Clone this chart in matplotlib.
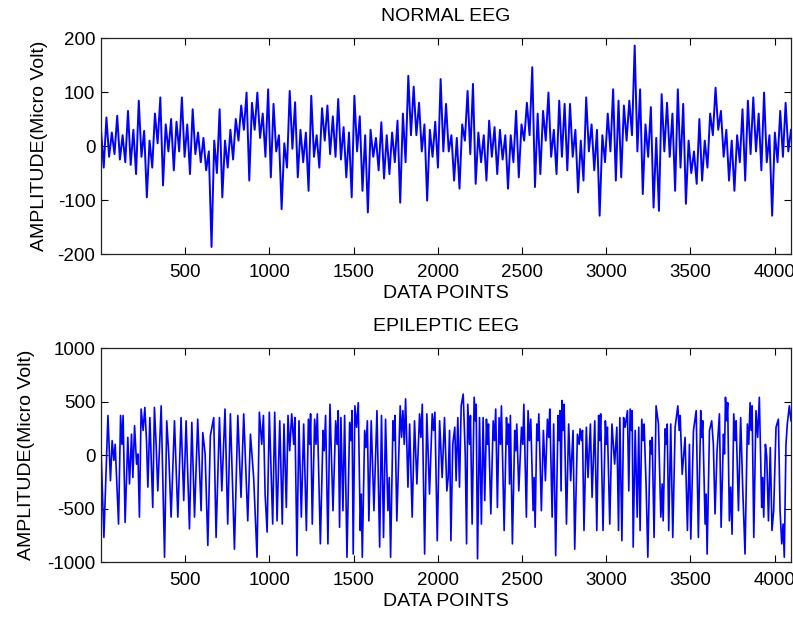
import numpy as np
import matplotlib
matplotlib.use("Agg")
import matplotlib.pyplot as plt

# ---------------- data ----------------
n_points = 4097
x_ticks = [500, 1000, 1500, 2000, 2500, 3000, 3500, 4000]
normal_yticks = [-200, -100, 0, 100, 200]
epi_yticks = [-1000, -500, 0, 500, 1000]

# NORMAL EEG: alternating peak / trough values, one every 16 samples
normal_step = 16
normal_values = [
    30, -40, 53, -20, 25, -15, 56, -25, 20, -30, 65, -35, 30, -52, 84, -20,
    28, -95, 10, -40, 60, 5, 90, -73, 40, -10, 50, -45, 45, -10, 90, -20,
    40, -52, 68, -15, 25, -30, 15, -45, -10, -187, 10, -50, 68, -95, 10, -40,
    30, -25, 50, 10, 75, 30, 99, -64, 80, 30, 99, 15, 60, -20, 105, -58,
    78, -10, 20, -117, 5, -40, 102, -5, 81, -58, 30, -30, 25, -83, 93, -20,
    20, -40, 70, 10, 75, -15, 55, -20, 87, -25, 35, -58, 25, -95, 93, -10,
    55, -83, 20, -123, 30, -20, 15, -45, 44, -60, 20, -52, 25, -30, 47, -105,
    60, -30, 130, 20, 110, 20, 80, -10, 40, -101, 30, -20, 45, -40, 124, -10,
    78, -10, 20, -64, 15, -79, 40, 10, 102, -15, 115, -70, 25, -30, 20, -64,
    47, -20, 35, -52, 30, -25, 20, -79, 20, -30, 65, -58, 40, 10, 80, 20,
    146, -76, 60, -52, 65, 10, 99, -20, 30, -52, 84, -20, 78, -45, 78, -20,
    30, -86, 10, -64, 90, -10, 40, -45, 30, -129, 20, -30, 60, -10, 105, -64,
    84, -58, 75, 10, 84, 20, 186, -10, 105, -89, 40, -20, 72, -114, 15, -120,
    96, -10, 80, -20, 60, -83, 105, -40, 78, -107, 10, -50, -10, -70, 50, -64,
    10, -40, 60, 20, 108, 30, 65, -20, 30, -64, 10, -83, 20, -30, 68, -64,
    84, -15, 90, -10, 60, -45, 99, -30, 20, -129, 25, -30, 65, -20, 80, -10,
    30,
]

# EPILEPTIC EEG: turning points (sample index, amplitude)
epi_index = [
    2, 18, 42, 57, 67, 77, 85, 105, 117, 125, 132, 144, 160, 170, 182, 190,
    200, 212, 220, 229, 239, 251, 261, 271, 279, 291, 308, 318, 328, 338, 358, 378,
    391, 403, 417, 437, 457, 476, 492, 506, 526, 540, 556, 575, 595, 605, 619, 635,
    650, 670, 684, 704, 718, 737, 753, 769, 793, 813, 832, 848, 872, 888, 907, 927,
    941, 955, 965, 975, 987, 1000, 1020,
    1032, 1046, 1062, 1077, 1087, 1101, 1111, 1121, 1133, 1145, 1152, 1164, 1176, 1190, 1204, 1220,
    1232, 1240, 1245, 1255, 1269, 1277, 1285, 1303, 1319, 1326, 1334, 1348, 1360, 1378, 1394, 1402,
    1409, 1417, 1425, 1437, 1447, 1461, 1477, 1485, 1491, 1498, 1508, 1518, 1528, 1540, 1546, 1552,
    1566, 1574, 1582, 1591, 1605, 1621, 1639, 1655, 1666, 1678, 1690, 1704, 1712, 1720, 1734, 1740,
    1746, 1757, 1777, 1785, 1793, 1801, 1809, 1823, 1833, 1848, 1862, 1876, 1892, 1900, 1908, 1922,
    1935, 1951, 1967, 1975, 1983, 1997, 2011, 2026, 2040, 2054,
    2062, 2070, 2078, 2089, 2101, 2109, 2119, 2129, 2139, 2151, 2163, 2171, 2178, 2188, 2194, 2204,
    2216, 2224, 2228, 2236, 2248, 2259, 2269, 2279, 2289, 2295, 2301, 2315, 2329, 2337, 2344, 2354,
    2364, 2372, 2378, 2394, 2408, 2414, 2420, 2426, 2431, 2443, 2457, 2463, 2469, 2481, 2497, 2505,
    2511, 2526, 2536, 2544, 2552, 2566, 2572, 2578, 2588, 2594, 2600, 2615, 2627, 2639, 2651, 2659,
    2665, 2679, 2688, 2700, 2714, 2720, 2726, 2732, 2738, 2744, 2750, 2764, 2777, 2789, 2803, 2813,
    2829, 2839, 2845, 2853, 2859, 2868, 2882, 2892, 2906, 2916, 2932, 2944, 2955, 2961, 2967, 2981,
    2995, 3001, 3007, 3021, 3034, 3050,
    3063, 3073, 3081, 3093, 3103, 3112, 3126, 3134, 3142, 3150, 3154, 3160, 3172, 3184, 3193, 3201,
    3211, 3219, 3225, 3237, 3247, 3261, 3269, 3273, 3284, 3296, 3310, 3324, 3332, 3338, 3350, 3356,
    3362, 3371, 3383, 3395, 3409, 3425, 3433, 3439, 3451, 3468, 3482, 3494, 3502, 3518, 3534, 3547,
    3561, 3567, 3573, 3587, 3593, 3599, 3613, 3626, 3636, 3646, 3658, 3672, 3682, 3696, 3702, 3708,
    3715, 3721, 3731, 3739, 3747, 3757, 3765, 3771, 3785, 3798, 3810, 3824, 3838, 3846, 3854, 3860,
    3866, 3876, 3889, 3899, 3909, 3923, 3929, 3935, 3945, 3953, 3963, 3974, 3984, 3994, 4008, 4022,
    4032, 4042, 4050, 4057, 4067, 4075, 4087, 4097,
]
epi_values = [
    10, -770, 370, -240, 135, -50, 100, -645, 370, 100, 370, -630, 165, -270, 195, -210,
    275, -85, 10, -580, 430, 230, 445, 135, -300, 350, -490, 445, 100, -335, 460, -955,
    320, 10, -580, 320, -580, 350, -425, 320, -690, 305, -580, 335, -520, 210, 10, -845,
    180, 350, -770, 350, -335, 430, -645, 385, -880, 370, -395, 385, -615, 195, -210, -955,
    400, 100, 370, -365, -720, 400, -645,
    400, -615, 320, -645, 290, -490, 370, 40, 385, 100, 350, -940, 320, -580, 290, -705,
    335, 100, 385, -645, 335, 100, 385, -830, 230, 40, 370, -830, 475, -520, 320, 100,
    415, -675, 350, -520, 370, -955, 305, 135, 415, -925, 460, 260, 490, -705, -365, -955,
    230, 70, 320, -615, 320, -520, 415, -860, 370, -770, 335, -520, -210, -955, 320, 135,
    370, -615, 460, 165, 415, 100, 525, -300, 290, -580, 320, -270, 385, 165, 475, -925,
    385, -365, 385, 230, 400, -800, 320, -210, 350, -335,
    -210, 230, -800, 100, 260, -240, 350, -300, 460, 570, 10, -830, 475, 100, 370, -645,
    540, 320, 475, -970, 350, -645, 350, -425, 335, 100, 290, -550, 320, 135, 430, -490,
    350, 100, 460, -705, 350, 100, 290, -270, 370, -830, 230, 40, 290, -335, 260, 100,
    475, -580, 415, 135, 335, -520, -210, -675, 290, 135, 385, -520, 230, -240, 335, 165,
    430, -580, 290, -940, 370, 135, 415, -335, 510, 230, 475, -645, 290, -240, 230, -880,
    195, 100, 245, 135, 230, -705, 260, -210, 290, -395, 320, -705, 370, 135, 385, -705,
    320, 100, 260, -645, 290, -85,
    260, -705, 350, -800, 350, 260, 415, -335, 430, 230, 415, -860, 230, -580, 260, -705,
    335, 135, 290, -300, -955, 135, 10, 165, -770, 460, 290, -580, -270, -615, 245, 100,
    290, -705, 290, -770, 260, 460, 230, 370, -180, 165, -705, 100, -785, 230, 415, -770,
    415, 165, 320, -645, -365, -925, 230, 320, 100, -550, 40, 385, -675, 195, 10, 540,
    320, 490, -615, -300, -740, 385, 135, 320, -520, 350, -300, -925, 290, 100, 490, 230,
    460, -770, 415, 165, 540, -490, -210, -580, 100, -20, -615, 70, -705, -520, 260, 335,
    -520, -830, -645, -955, 100, 290, 460, 320,
]

# ---------------- figure ----------------
plt.rcParams['font.family'] = ['Liberation Sans', 'DejaVu Sans']

fig = plt.figure(figsize=(7.93, 6.17), dpi=100, facecolor='white')
ax1 = fig.add_axes([0.1274, 0.5883, 0.8701, 0.3501])
ax2 = fig.add_axes([0.1274, 0.0891, 0.8701, 0.3468])

normal_x = 1 + normal_step * np.arange(len(normal_values))
ax1.plot(normal_x, normal_values, color='#0000ff', lw=1.4)
ax2.plot(epi_index, epi_values, color='#0000ff', lw=1.2)

panels = [
    (ax1, 'NORMAL EEG', normal_yticks, 7),
    (ax2, 'EPILEPTIC EEG', epi_yticks, 9),
]
for ax, title, yt, ylpad in panels:
    ax.set_xlim(1, n_points)
    ax.set_ylim(yt[0], yt[-1])
    ax.set_xticks(x_ticks)
    ax.set_xticklabels([str(v) for v in x_ticks])
    ax.set_yticks(yt)
    ax.set_yticklabels([str(v) for v in yt])
    ax.tick_params(direction='in', length=5, width=0.8, top=True, right=True,
                   labelsize=13.5, colors='black')
    ax.tick_params(axis='x', pad=7)
    ax.tick_params(axis='y', pad=4)
    for s in ax.spines.values():
        s.set_linewidth(0.9)
        s.set_color('#222222')
    ax.set_title(title, fontsize=14, pad=12)
    ax.set_xlabel('DATA POINTS', fontsize=14, labelpad=3)
    ax.set_ylabel('AMPLITUDE(Micro Volt)', fontsize=14, labelpad=ylpad)

fig.savefig('out.png', dpi=100, facecolor='white')
